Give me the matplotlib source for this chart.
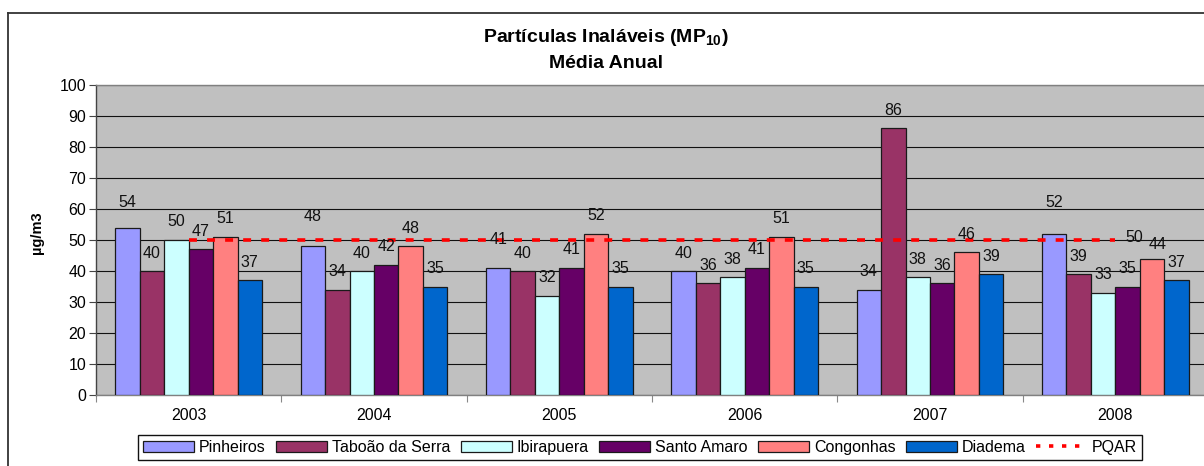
import numpy as np
import matplotlib
matplotlib.use('Agg')
import matplotlib.pyplot as plt
from matplotlib.lines import Line2D

plt.rcParams['font.family'] = ['Liberation Sans', 'DejaVu Sans']
plt.rcParams['mathtext.fontset'] = 'custom'
plt.rcParams['mathtext.rm'] = 'Liberation Sans'
plt.rcParams['mathtext.bf'] = 'Liberation Sans:bold'

# annual means per station (ug/m3)
years = ['2003', '2004', '2005', '2006', '2007', '2008']
stations = ['Pinheiros', 'Taboão da Serra', 'Ibirapuera', 'Santo Amaro', 'Congonhas', 'Diadema']
pinheiros = [54, 48, 41, 40, 34, 52]
taboao = [40, 34, 40, 36, 86, 39]
ibirapuera = [50, 40, 32, 38, 38, 33]
santo_amaro = [47, 42, 41, 41, 36, 35]
congonhas = [51, 48, 52, 51, 46, 44]
diadema = [37, 35, 35, 35, 39, 37]
pqar = [50, 50, 50, 50, 50, 50]

series = [pinheiros, taboao, ibirapuera, santo_amaro, congonhas, diadema]
colors = ['#9999FF', '#993366', '#CCFFFF', '#660066', '#FF8080', '#0066CC']

# label nudges (dx, dy in pixels) for a few labels that sit off the default spot
nudge = {(0, 0): (0, 7), (0, 1): (0, 12), (0, 2): (0, 10), (0, 5): (0, 13),
         (4, 5): (6, -4)}

W, H = 1204, 466
fig = plt.figure(figsize=(W / 100, H / 100), dpi=100)
ax = fig.add_axes([96 / W, 1 - 395 / H, (1208 - 96) / W, (395 - 85) / H])
ax.set_facecolor('#C0C0C0')

FS = 11.5
x = np.arange(len(years))
bw = 0.132
for i, (vals, c) in enumerate(zip(series, colors)):
    xs = x + (i - 2.5) * bw
    ax.bar(xs, vals, bw, color=c, edgecolor='#1a1a1a', linewidth=0.9, zorder=3)
    for j, v in enumerate(vals):
        dx, dy = nudge.get((i, j), (0, 0))
        ax.annotate(str(v), (xs[j], v), xytext=(dx, 18 + dy),
                    textcoords='offset pixels', ha='center', va='center',
                    fontsize=FS, color='#111111', zorder=5)

ax.plot(x, pqar, color='#FF0000', linestyle=(0, (2.2, 2.8)), linewidth=2.6, zorder=4)
ax.annotate(str(pqar[-1]), (x[-1], pqar[-1]), xytext=(19, 2), textcoords='offset pixels',
            ha='center', va='center', fontsize=FS, color='#111111', zorder=5)

ax.set_xlim(-0.5, len(years) - 0.5)
ax.set_ylim(0, 100)
ax.set_yticks(range(0, 101, 10))
ax.yaxis.grid(True, color='#111111', linewidth=0.8)
ax.set_axisbelow(True)
ax.tick_params(axis='y', length=5, width=0.8, color='#444444', labelsize=FS, pad=2)
ax.set_xticks(x)
ax.set_xticklabels(years)
ax.tick_params(axis='x', which='major', length=0, labelsize=FS, pad=9)
ax.set_xticks(np.arange(-0.5, len(years)), minor=True)
ax.tick_params(axis='x', which='minor', length=5, width=0.8, color='#888888')
for s in ax.spines.values():
    s.set_color('#808080')
    s.set_linewidth(1.0)
ax.spines['left'].set_color('#444444')

fig.text(37 / W, 1 - 233 / H, 'µg/m3', rotation=90, ha='center', va='center',
         fontsize=10.5, fontweight='bold')
fig.text(606 / W, 1 - 37 / H, r'Partículas Inaláveis (MP$_{\mathbf{10}}$)', ha='center',
         va='center', fontsize=14, fontweight='bold')
fig.text(606 / W, 1 - 63 / H, 'Média Anual', ha='center', va='center',
         fontsize=14, fontweight='bold')

# chart border (left and top edges)
fig.add_artist(Line2D([8 / W, 8 / W], [0, 1 - 13 / H], color='#333333', linewidth=1.3))
fig.add_artist(Line2D([8 / W, 1], [1 - 13 / H, 1 - 13 / H], color='#333333', linewidth=1.3))

handles = [plt.Rectangle((0, 0), 1, 1, facecolor=c, edgecolor='#1a1a1a', linewidth=0.9)
           for c in colors]
handles.append(Line2D([], [], color='#FF0000', linestyle=(0, (1.2, 2.4)), linewidth=2.6))
leg = fig.legend(handles, stations + ['PQAR'], loc='center', bbox_to_anchor=(640 / W, 1 - 447.5 / H),
                 ncol=7, fontsize=FS, frameon=True, fancybox=False, framealpha=1,
                 edgecolor='#111111', handlelength=3.2, handleheight=0.7,
                 handletextpad=0.3, columnspacing=0.65, borderpad=0.3)
leg.get_frame().set_linewidth(1.0)

fig.savefig('out.png', dpi=100)
